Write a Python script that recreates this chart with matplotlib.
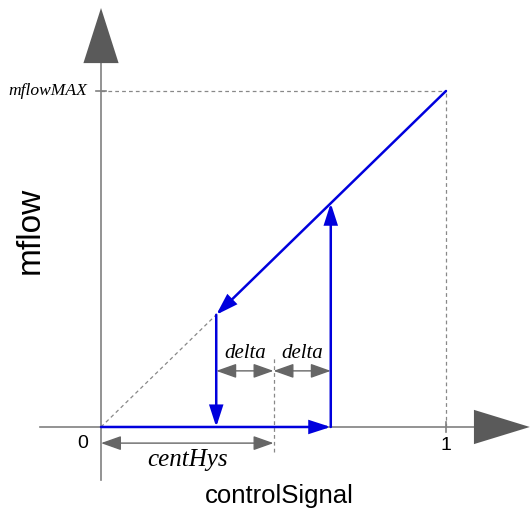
import matplotlib
matplotlib.use("Agg")
import matplotlib.pyplot as plt
from matplotlib.patches import Polygon, FancyArrowPatch

# Hysteresis parameters (normalised units)
cent_hys = 0.5
delta = 0.166
mflow_max = 1.0
signal_max = 1.0

lower = cent_hys - delta
upper = cent_hys + delta

BLUE = "#0000dd"
AXIS = "#808080"
DARK = "#5a5a5a"
DIM = "#666666"

fig = plt.figure(figsize=(5.31, 5.13), dpi=100)
ax = fig.add_axes([0, 0, 1, 1])
ax.set_xlim(-0.2928, 1.2464)
ax.set_ylim(-0.256, 1.2708)
ax.axis("off")

# Coordinate axes with large arrowheads
ax.plot([-0.177, 1.09], [0, 0], color=AXIS, lw=1.2, zorder=1)
ax.plot([0, 0], [-0.158, 1.09], color=AXIS, lw=1.2, zorder=1)
ax.add_patch(Polygon([[1.081, 0.051], [1.243, 0], [1.081, -0.051]],
                     closed=True, color=DARK, lw=0, zorder=2))
ax.add_patch(Polygon([[-0.051, 1.083], [0, 1.247], [0.051, 1.083]],
                     closed=True, color=DARK, lw=0, zorder=2))

# Ticks at the maximum values
ax.plot([-0.015, 0.015], [mflow_max, mflow_max], color=AXIS, lw=1.2)
ax.plot([signal_max, signal_max], [-0.015, 0.015], color=AXIS, lw=1.2)

# Dashed guides
dash = dict(color="#888888", lw=0.9, ls=(0, (3, 2.5)), zorder=1)
ax.plot([0, signal_max], [mflow_max, mflow_max], **dash)
ax.plot([signal_max, signal_max], [0, mflow_max], **dash)
ax.plot([0, lower], [0, lower * mflow_max], **dash)
ax.plot([cent_hys, cent_hys], [-0.075, 0.208], **dash)

head = "-|>,head_length=0.62,head_width=0.2"


def blue_arrow(p0, p1):
    ax.add_patch(FancyArrowPatch(p0, p1, arrowstyle=head, mutation_scale=20,
                                 color=BLUE, lw=1.8, shrinkA=0, shrinkB=0,
                                 zorder=4, joinstyle="miter"))


# Hysteresis loop
blue_arrow((signal_max, mflow_max), (lower, lower * mflow_max))
blue_arrow((lower, lower * mflow_max), (lower, 0))
blue_arrow((0, 0), (upper, 0))
blue_arrow((upper, 0), (upper, upper * mflow_max))


def dim_arrow(x0, x1, y):
    ax.add_patch(FancyArrowPatch((x0, y), (x1, y),
                                 arrowstyle="<|-|>,head_length=0.62,head_width=0.22",
                                 mutation_scale=20, color=DIM, lw=1.0,
                                 shrinkA=0, shrinkB=0, zorder=3))


dim_y = 0.167
dim_arrow(lower, cent_hys, dim_y)
dim_arrow(cent_hys, upper, dim_y)
dim_arrow(0, cent_hys, -0.048)

serif = dict(family="Liberation Serif", style="italic")
ax.text((lower + cent_hys) / 2, 0.22, "delta", ha="center", va="center",
        fontsize=15, **serif)
ax.text((cent_hys + upper) / 2, 0.22, "delta", ha="center", va="center",
        fontsize=15, **serif)
ax.text(0.251, -0.098, "centHys", ha="center", va="center", fontsize=18, **serif)
ax.text(-0.041, mflow_max, "mflowMAX", ha="right", va="center",
        fontsize=12.6, **serif)

sans = dict(family="Liberation Sans")
ax.text(-0.052, -0.048, "0", ha="center", va="center", fontsize=14, **sans)
ax.text(signal_max, -0.054, "1", ha="center", va="center", fontsize=14, **sans)
ax.text(-0.205, 0.586, "mflow", ha="center", va="center", rotation=90,
        fontsize=24, **sans)
ax.text(0.516, -0.205, "controlSignal", ha="center", va="center",
        fontsize=18.5, **sans)

fig.savefig("out.png", dpi=100)
